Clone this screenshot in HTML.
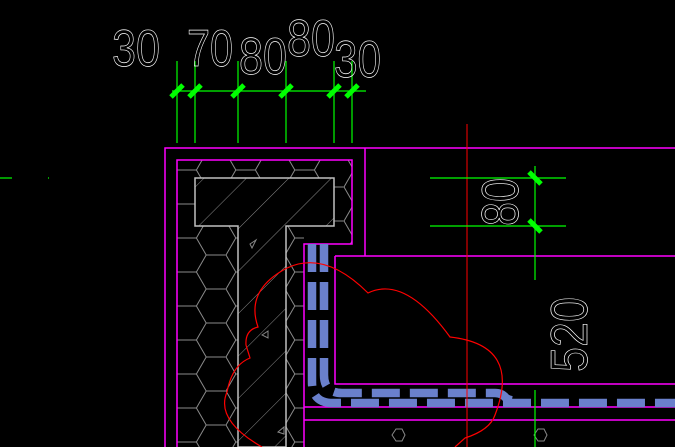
<!DOCTYPE html>
<html><head><style>html,body{margin:0;padding:0;background:#000;width:675px;height:447px;overflow:hidden}</style></head>
<body>
<svg width="675" height="447" viewBox="0 0 675 447" xmlns="http://www.w3.org/2000/svg">
<defs>
<pattern id="hex" width="59" height="34" patternUnits="userSpaceOnUse" x="167" y="0">
<path d="M0,17 L9.8,0 L29.4,0 L39.2,17 L29.4,34 L9.8,34 Z M39.2,17 L59,17" fill="none" stroke="#8a8a8a" stroke-width="1"/>
</pattern>
<pattern id="hatch" width="30" height="30" patternUnits="userSpaceOnUse" patternTransform="rotate(45)">
<line x1="0" y1="0" x2="0" y2="30" stroke="#8a8a8a" stroke-width="1"/>
</pattern>
<clipPath id="hexclip">
<path d="M177,160 H352 V244 H334 V178 H195 V226 H238 V447 H177 Z M286,226 H304 V447 H286 Z"/>
</clipPath>
</defs>
<rect width="675" height="447" fill="#000"/>
<rect x="177" y="160" width="175" height="287" fill="url(#hex)" clip-path="url(#hexclip)"/>
<path d="M195,178 H334 V226 H286 V447 H238 V226 H195 Z" fill="url(#hatch)" stroke="#c0c0c0" stroke-width="1.5"/>
<g fill="none" stroke="#888" stroke-width="1">
<path d="M250,244 L256,240 L252,248 Z"/><path d="M262,335 L268,331 L268,338 Z"/><path d="M278,432 L284,427 L284,434 Z"/>
<path d="M392,435 L396,429 L402,429 L405,435 L402,441 L396,441 Z"/>
<path d="M534,435 L538,429 L544,429 L547,435 L544,441 L538,441 Z"/>
</g>
<g fill="none" stroke="#ff00ff" stroke-width="1.5">
<path d="M165,447 V148 H675"/>
<path d="M365,148 V256"/>
<path d="M177,447 V160 H352 V244 H304 V447"/>
<path d="M335,256 H675 M335,256 V384 H675"/>
<path d="M304,407 H675 M304,420 H675"/>
</g>
<g fill="none" stroke="#6a80cc" stroke-width="8.5" stroke-dasharray="28,10">
<path d="M312,244 V382 Q312,403 333,403 H675"/>
<path d="M324,244 V375 Q324,393 342,393 H495 Q502,393 506,398 Q510,401 520,401"/>
</g>
<line x1="467" y1="124" x2="467" y2="447" stroke="#ff0000" stroke-width="1"/>
<path d="M262,447 Q215,420 227,392 Q232,365 250,358 L246,345 Q245,330 258,327 Q245,290 287,268 Q325,250 368,293 Q405,275 450,337 Q522,345 495,415 Q490,430 465,438 L455,447" fill="none" stroke="#ff0000" stroke-width="1.2"/>
<g stroke="#00ff00" stroke-width="1.2">
<line x1="172" y1="91" x2="366" y2="91"/>
<line x1="177" y1="61" x2="177" y2="143"/><line x1="195" y1="61" x2="195" y2="143"/>
<line x1="238" y1="61" x2="238" y2="143"/><line x1="286" y1="61" x2="286" y2="143"/>
<line x1="334" y1="61" x2="334" y2="143"/><line x1="352" y1="61" x2="352" y2="143"/>
<line x1="430" y1="178" x2="566" y2="178"/><line x1="430" y1="226" x2="566" y2="226"/>
<line x1="535" y1="166" x2="535" y2="280"/><line x1="535" y1="390" x2="535" y2="447"/>
<line x1="0" y1="178" x2="12" y2="178"/><line x1="48" y1="178" x2="49" y2="178"/>
</g>
<g stroke="#00ff00" stroke-width="5">
<line x1="171" y1="97" x2="183" y2="85"/><line x1="189" y1="97" x2="201" y2="85"/>
<line x1="232" y1="97" x2="244" y2="85"/><line x1="280" y1="97" x2="292" y2="85"/>
<line x1="328" y1="97" x2="340" y2="85"/><line x1="346" y1="97" x2="358" y2="85"/>
<line x1="529" y1="172" x2="541" y2="184"/><line x1="529" y1="220" x2="541" y2="232"/>
</g>
<g font-family="Liberation Sans, sans-serif" font-size="52" fill="none" stroke="#fff" stroke-width="0.7">
<text x="112" y="66" textLength="48" lengthAdjust="spacingAndGlyphs">30</text>
<text x="187" y="66" textLength="46" lengthAdjust="spacingAndGlyphs">70</text>
<text x="239" y="74" textLength="48" lengthAdjust="spacingAndGlyphs">80</text>
<text x="287" y="56" textLength="48" lengthAdjust="spacingAndGlyphs">80</text>
<text x="334" y="77" textLength="47" lengthAdjust="spacingAndGlyphs">30</text>
<text transform="translate(518,226) rotate(-90)" textLength="48" lengthAdjust="spacingAndGlyphs">80</text>
<text transform="translate(587,372) rotate(-90)" textLength="75" lengthAdjust="spacingAndGlyphs">520</text>
</g>
</svg>
</body></html>
